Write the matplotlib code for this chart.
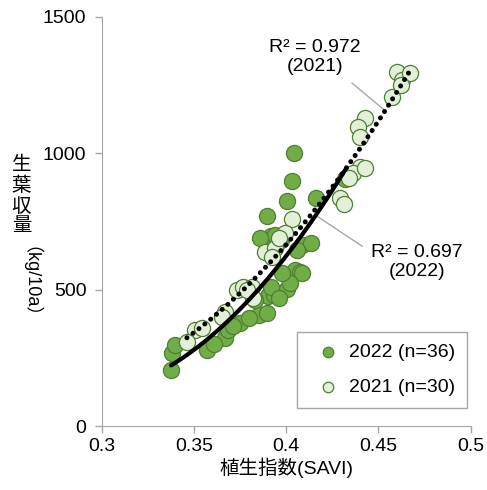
import numpy as np
import matplotlib
matplotlib.use("Agg")
import matplotlib.pyplot as plt

plt.rcParams['font.family'] = ['Liberation Sans', 'Noto Sans CJK JP']

# 2022 (n=36)
savi_2022 = [0.3376, 0.3381, 0.3397, 0.3571, 0.3668, 0.3685, 0.3750, 0.3853, 0.3896, 0.3901,
             0.3934, 0.4004, 0.4048, 0.4075, 0.4086, 0.4085, 0.4134, 0.3918, 0.3940, 0.3896,
             0.4004, 0.4161, 0.4031, 0.4042, 0.4320, 0.3920, 0.3860, 0.3970, 0.3960, 0.3830,
             0.3710, 0.3800, 0.4020, 0.4060, 0.3980, 0.3610]
yield_2022 = [205, 267, 297, 278, 322, 352, 377, 407, 414, 476,
              480, 502, 571, 564, 560, 663, 670, 696, 700, 769,
              824, 835, 897, 1000, 905, 510, 690, 680, 470, 460,
              365, 395, 525, 645, 560, 300]

# 2021 (n=30)
savi_2021 = [0.4031, 0.3993, 0.3885, 0.3940, 0.3923, 0.3733, 0.3766, 0.3815, 0.3820, 0.3668,
             0.3505, 0.3462, 0.4600, 0.4628, 0.4671, 0.4573, 0.4427, 0.4389, 0.4400, 0.4400,
             0.4362, 0.4427, 0.4292, 0.4315, 0.3545, 0.3785, 0.3960, 0.4340, 0.4620, 0.3650]
yield_2021 = [758, 707, 637, 652, 619, 498, 509, 509, 469, 418,
              352, 308, 1297, 1267, 1293, 1205, 1128, 1095, 1059, 949,
              927, 945, 835, 815, 360, 500, 690, 910, 1250, 400]

fig = plt.figure(figsize=(4.87, 4.90), dpi=100)
ax = fig.add_axes([0.2088, 0.1306, 0.7577, 0.8357])

green_dark = '#70AD47'
green_light = '#E2F0D9'
edge = '#507E32'

ax.scatter(savi_2022, yield_2022, s=135, c=green_dark, edgecolors=edge, linewidths=0.9,
           label='2022 (n=36)', zorder=2)
ax.scatter(savi_2021, yield_2021, s=135, c=green_light, edgecolors=edge, linewidths=0.9,
           label='2021 (n=30)', zorder=3)

# 近似曲線（2次）
c22 = np.polyfit(savi_2022, yield_2022, 2)
xs22 = np.linspace(min(savi_2022), max(savi_2022), 100)
ax.plot(xs22, np.polyval(c22, xs22), color='black', lw=3, solid_capstyle='round', zorder=4)

c21 = np.polyfit(savi_2021, yield_2021, 2)
xs21 = np.linspace(min(savi_2021), max(savi_2021), 200)
ax.plot(xs21, np.polyval(c21, xs21), color='black', lw=3.6, linestyle=(0, (0.01, 1.5)),
        dash_capstyle='round', zorder=4)

# R2 注記
ax.text(0.4156, 1350, 'R² = 0.972\n(2021)', ha='center', va='center', fontsize=14,
        linespacing=1.15)
ax.plot([0.4357, 0.4531], [1256, 1158], color='#A6A6A6', lw=1, zorder=1)
ax.text(0.4710, 600, 'R² = 0.697\n(2022)', ha='center', va='center', fontsize=14,
        linespacing=1.15)
ax.plot([0.4173, 0.4411], [766, 659], color='#A6A6A6', lw=1, zorder=1)

ax.set_xlim(0.3, 0.5)
ax.set_ylim(0, 1500)
ax.set_xticks([0.3, 0.35, 0.4, 0.45, 0.5])
ax.set_xticklabels(['0.3', '0.35', '0.4', '0.45', '0.5'])
ax.set_yticks([0, 500, 1000, 1500])
ax.tick_params(labelsize=14, direction='out', length=5, color='#A6A6A6', width=1)
ax.tick_params(axis='y', pad=6)
for s in ['top', 'right']:
    ax.spines[s].set_visible(False)
for s in ['left', 'bottom']:
    ax.spines[s].set_color('#A6A6A6')

ax.set_xlabel('植生指数(SAVI)', fontsize=14, labelpad=2)

# 縦書きの軸ラベル
fig.text(0.044, 0.60, '生\n葉\n収\n量', ha='center', va='center', fontsize=14, linespacing=1.2)
fig.text(0.044, 0.405, '（kg/10a）', ha='center', va='center', fontsize=13, rotation=-90)

leg = ax.legend(loc='lower right', bbox_to_anchor=(0.99, 0.044), borderaxespad=0,
                fontsize=14, markerscale=0.65, handletextpad=0.1, fancybox=False,
                edgecolor='#A6A6A6', framealpha=1, borderpad=0.6, labelspacing=0.9)
leg.get_frame().set_linewidth(1)

fig.savefig('out.png', dpi=100)
